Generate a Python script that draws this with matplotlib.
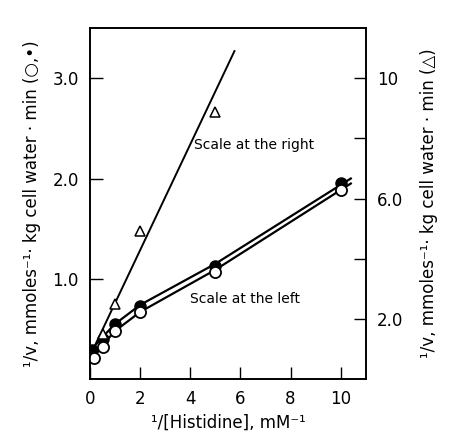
import matplotlib
matplotlib.use("Agg")
import matplotlib.pyplot as plt

# 1/[Histidine] (mM^-1) and 1/v values
x_filled = [0.08, 0.5, 1.0, 2.0, 5.0, 10.0]
y_filled = [0.29, 0.40, 0.55, 0.73, 1.13, 1.96]
x_open = [0.16, 0.5, 1.0, 2.0, 5.0, 10.0]
y_open = [0.21, 0.32, 0.48, 0.67, 1.07, 1.89]
x_tri = [0.5, 1.0, 2.0, 5.0]
y_tri = [1.5, 2.5, 4.93, 8.87]   # right-hand scale

# drawn lines (hand-fitted in the original)
line_filled_x = [0.0, 0.08, 0.5, 1.0, 2.0, 5.0, 10.4]
line_filled_y = [0.25, 0.30, 0.42, 0.55, 0.74, 1.15, 2.00]
line_open_x = [0.0, 0.16, 0.5, 1.0, 2.0, 5.0, 10.4]
line_open_y = [0.17, 0.22, 0.34, 0.48, 0.67, 1.09, 1.95]
line_tri_x = [0.0, 5.76]
line_tri_y = [0.77, 10.9]

fig = plt.figure(figsize=(4.5, 4.45), dpi=100)
ax = fig.add_axes([0.2, 0.148, 0.613, 0.789])
ax2 = ax.twinx()

ax.plot(line_filled_x, line_filled_y, color="black", lw=1.6)
ax.plot(line_open_x, line_open_y, color="black", lw=1.6)
ax.plot(x_filled, y_filled, "o", color="black", ms=8, zorder=3)
ax.plot(x_open, y_open, "o", mfc="white", mec="black", mew=1.3, ms=8, zorder=4)

ax2.plot(line_tri_x, line_tri_y, color="black", lw=1.4)
ax2.plot(x_tri, y_tri, "^", mfc="white", mec="black", mew=1.1, ms=7, zorder=3)

ax.set_xlim(0, 11)
ax.set_ylim(0, 3.5)
ax2.set_ylim(0, 3.5 * 10 / 3)

ax.set_xticks([0, 2, 4, 6, 8, 10])
ax.set_xticklabels(["0", "2", "4", "6", "8", "10"])
ax.set_yticks([1.0, 2.0, 3.0])
ax.set_yticklabels(["1.0", "2.0", "3.0"])
ax2.set_yticks([2, 4, 6, 8, 10])
ax2.set_yticklabels(["2.0", "", "6.0", "", "10"])

ax.tick_params(axis="both", direction="in", length=9, width=1.0, labelsize=12, pad=8)
ax.tick_params(axis="x", top=False)
ax2.tick_params(axis="y", direction="in", length=9, width=1.0, labelsize=12, pad=8)

for a in (ax, ax2):
    for s in a.spines.values():
        s.set_linewidth(1.2)

ax.text(4.16, 2.33, "Scale at the right", fontsize=10, va="center")
ax.text(4.0, 0.80, "Scale at the left", fontsize=10, va="center")

ax.set_xlabel("¹/[Histidine], mM⁻¹", fontsize=12, labelpad=4)
ax.set_ylabel("¹/v, mmoles⁻¹· kg cell water · min (○,•)", fontsize=12, labelpad=8)
ax2.set_ylabel("¹/v, mmoles⁻¹· kg cell water · min (△)", fontsize=12,
               rotation=90, labelpad=12)

fig.savefig("out.png", dpi=100)
